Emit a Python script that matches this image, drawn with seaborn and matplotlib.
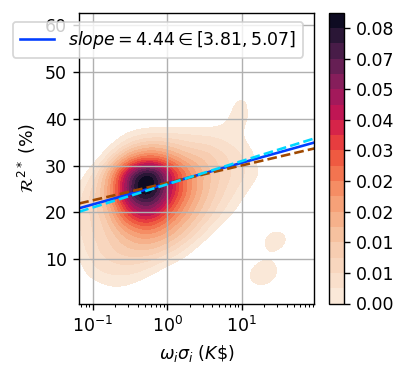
import numpy as np
import pandas as pd
import seaborn as sns
from matplotlib import pyplot as plt

# Density of (omega_i sigma_i, R2*), on a coarse grid.
# Columns are omega_i sigma_i bins in K$, rows are R2* bins in %.
x_bins = [0.056, 0.1, 0.178, 0.316, 0.562, 1.0, 1.78, 3.16, 5.62, 10.0, 17.8]
r2_bins = [44, 40, 36, 32, 28, 24, 20, 16, 12, 8, 4]
w44 = [0, 0, 0, 0, 0, 0, 0, 0, 0.5, 4.5, 0]
w40 = [0, 0, 0, 0, 0, 0, 0, 0, 1.5, 4.5, 0]
w36 = [0, 0, 0.5, 3.5, 4.7, 4.9, 5, 4.5, 3.5, 2.5, 0]
w32 = [0, 0, 4.1, 13.7, 20.4, 14.7, 9.2, 10.2, 6.5, 5, 1]
w28 = [0, 3.6, 12.3, 65.2, 97, 50.8, 23.6, 11.9, 7.5, 5, 2.5]
w24 = [2.5, 6.7, 12.7, 67.8, 100.9, 52.8, 23, 10.9, 6, 3, 0]
w20 = [3, 7.4, 7.7, 41.1, 61.2, 32, 15.7, 8.5, 4, 1, 0]
w16 = [3, 7, 7.5, 16, 23.8, 16.4, 9.6, 4, 0.5, 0, 0]
w12 = [2, 6, 7.75, 10, 9.9, 7.6, 3.5, 0, 0, 0, 0]
w08 = [0, 4.5, 5.5, 5.5, 4.2, 0.8, 0, 0, 0, 0, 0]
w04 = [0, 1, 2.5, 2, 0, 0, 0, 0, 0, 0, 0]

# extra clumps: the sharp mode and two isolated blobs on the right
clump_x = [0.5, 19.5, 28.2]
clump_r2 = [26.5, 7.0, 14.0]
clump_w = [25, 10, 8]

# fitted lines: R2 = a + b*log10(x)
fit_a = [26.14, 26.3, 26.0]
fit_b = [4.44, 3.72, 4.95]
fit_label = [r"$slope = 4.44 \in [3.81, 5.07]$", None, None]

rows = [w44, w40, w36, w32, w28, w24, w20, w16, w12, w08, w04]
recs = []
for r2, ws in zip(r2_bins, rows):
    for xv, w in zip(x_bins, ws):
        if w > 0:
            recs.append((xv, r2, w))
for xv, r2, w in zip(clump_x, clump_r2, clump_w):
    recs.append((xv, r2, w))
df = pd.DataFrame(recs, columns=["x", "r2", "w"])

DPI = 125
fig = plt.figure(figsize=(408 / DPI, 373 / DPI), dpi=DPI)
ax = fig.add_axes([79.3 / 408, 1 - 303.5 / 373, 235.2 / 408, 290.8 / 373])
cax = fig.add_axes([329 / 408, 1 - 303.5 / 373, 15 / 408, 290.8 / 373])

sns.kdeplot(data=df, x="x", y="r2", weights="w", fill=True, levels=20,
            cmap="rocket_r", log_scale=(True, False), bw_method=0.35,
            cbar=True, cbar_ax=cax, cbar_kws={"format": "%.2f"}, ax=ax)

xlim = (0.066, 94.8)
ylim = (0.57, 62.6)
pal = sns.color_palette("bright")
colors = [pal[0], pal[5], pal[9]]
styles = ["-", "--", "--"]
xs = np.geomspace(xlim[0], xlim[1], 50)
for a, b, c, ls, lab in zip(fit_a, fit_b, colors, styles, fit_label):
    ax.plot(xs, a + b * np.log10(xs), color=c, ls=ls, lw=1.5, label=lab)

ax.set_xlim(xlim)
ax.set_ylim(ylim)
ax.grid(True)
ax.set_xlabel(r"$\omega_i\sigma_i$ $(K\$)$")
ax.set_ylabel(r"$\mathcal{R}^{2*}$ (%)")
ax.legend(loc="upper left", bbox_to_anchor=(12.7 / 408, 1 - 21.7 / 373),
          bbox_transform=fig.transFigure, borderaxespad=0)

fig.savefig("out.png", dpi=DPI)
